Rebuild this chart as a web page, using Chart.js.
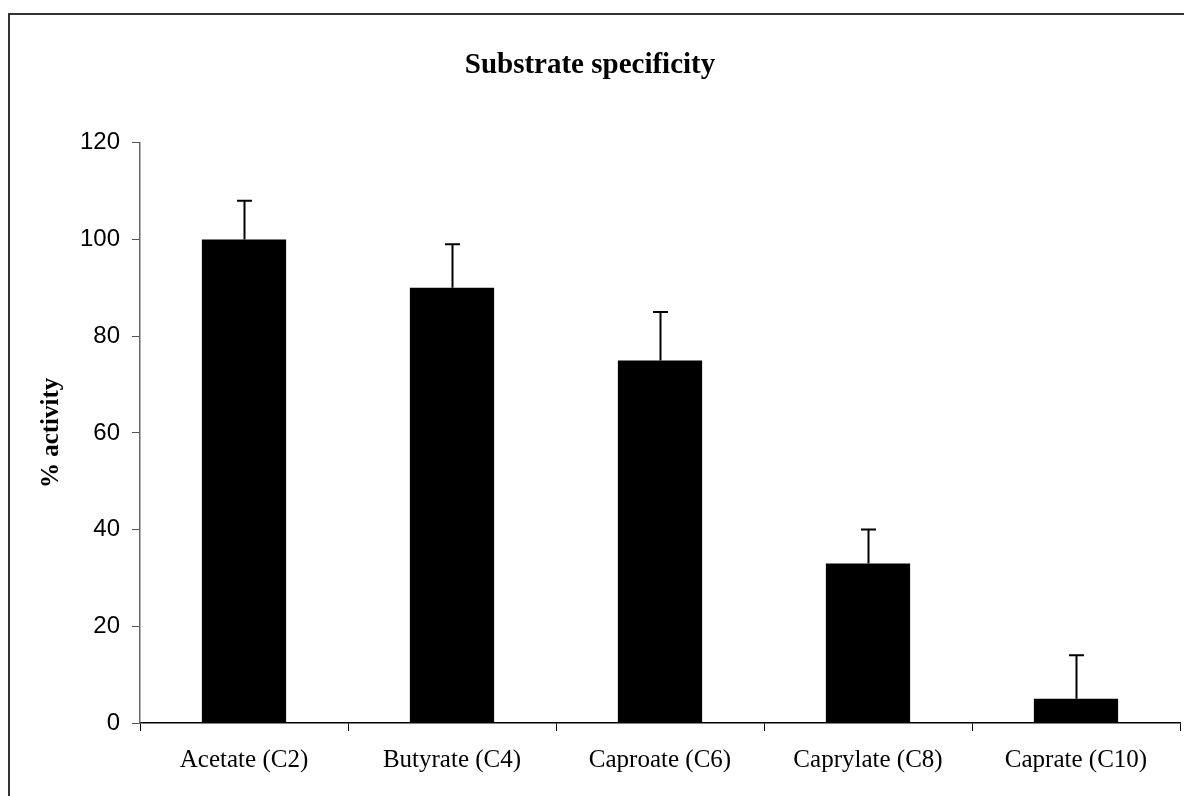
<!DOCTYPE html>
<html>
<head>
<meta charset="utf-8">
<script src="https://cdn.jsdelivr.net/npm/chart.js"></script>
<style>
  html, body { margin: 0; padding: 0; background: #fff; }
  #wrap { width: 1184px; height: 796px; }
</style>
</head>
<body>
<div id="wrap"><canvas id="chartCanvas" width="1184" height="796"></canvas></div>
<script>
// substrates tested and relative activity (%), with upward error bars
const substrates = ['Acetate (C2)', 'Butyrate (C4)', 'Caproate (C6)', 'Caprylate (C8)', 'Caprate (C10)'];
const activity = [100, 90, 75, 33, 5];
const activityError = [8, 9, 10, 7, 9];
const yTicks = [0, 20, 40, 60, 80, 100, 120];

// white page with the framing lines on the left and top
const framePlugin = {
  id: 'frame',
  beforeDraw(chart) {
    const ctx = chart.ctx;
    ctx.save();
    ctx.fillStyle = '#fff';
    ctx.fillRect(0, 0, chart.width, chart.height);
    ctx.strokeStyle = '#333';
    ctx.lineWidth = 2;
    ctx.beginPath();
    ctx.moveTo(9, chart.height);
    ctx.lineTo(9, 14);
    ctx.lineTo(chart.width, 14);
    ctx.stroke();
    ctx.restore();
  }
};

// one-sided error bars drawn above each bar
const errorBarPlugin = {
  id: 'errorBars',
  afterDatasetsDraw(chart) {
    const ctx = chart.ctx;
    const yScale = chart.scales.y;
    const meta = chart.getDatasetMeta(0);
    ctx.save();
    ctx.strokeStyle = '#000';
    ctx.lineWidth = 2;
    meta.data.forEach((bar, i) => {
      const x = Math.round(bar.x) + 0.5;
      const yBase = yScale.getPixelForValue(activity[i]);
      const yTop = yScale.getPixelForValue(activity[i] + activityError[i]);
      ctx.beginPath();
      ctx.moveTo(x, yBase);
      ctx.lineTo(x, yTop);
      ctx.moveTo(x - 7.5, yTop);
      ctx.lineTo(x + 7.5, yTop);
      ctx.stroke();
    });
    ctx.restore();
  }
};

const ctx = document.getElementById('chartCanvas').getContext('2d');

new Chart(ctx, {
  type: 'bar',
  data: {
    labels: substrates,
    datasets: [
      {
        label: '% activity',
        data: activity,
        backgroundColor: '#000',
        borderWidth: 0,
        categoryPercentage: 1,
        barPercentage: 0.405
      }
    ]
  },
  options: {
    responsive: false,
    animation: false,
    layout: {
      padding: { left: 0, right: 4, top: 0, bottom: 0 }
    },
    plugins: {
      legend: { display: false },
      tooltip: { enabled: false },
      title: {
        display: true,
        text: 'Substrate specificity',
        color: '#000',
        font: { family: 'Liberation Serif', size: 29, weight: 'bold' },
        padding: { top: 48, bottom: 60 }
      }
    },
    scales: {
      x: {
        grid: {
          display: true,
          drawOnChartArea: false,
          offset: true,
          tickLength: 8,
          color: '#000',
          lineWidth: 1
        },
        border: { display: true, color: '#000', width: 1.5 },
        ticks: {
          color: '#000',
          font: { family: 'Liberation Serif', size: 25 },
          padding: 14,
          maxRotation: 0,
          autoSkip: false
        },
        afterFit(scale) { scale.height = 73; }
      },
      y: {
        min: 0,
        max: 120,
        afterBuildTicks(scale) { scale.ticks = yTicks.map(v => ({ value: v })); },
        grid: {
          display: true,
          drawOnChartArea: false,
          tickLength: 8,
          color: '#555',
          lineWidth: 1
        },
        border: { display: true, color: '#666', width: 1.5 },
        ticks: {
          color: '#000',
          font: { family: 'Liberation Sans', size: 24 },
          padding: 12
        },
        title: {
          display: true,
          text: '% activity',
          color: '#000',
          font: { family: 'Liberation Serif', size: 25, weight: 'bold' },
          padding: { top: 37, bottom: 0 }
        },
        afterFit(scale) { scale.width = 140; }
      }
    }
  },
  plugins: [framePlugin, errorBarPlugin]
});
</script>
</body>
</html>
